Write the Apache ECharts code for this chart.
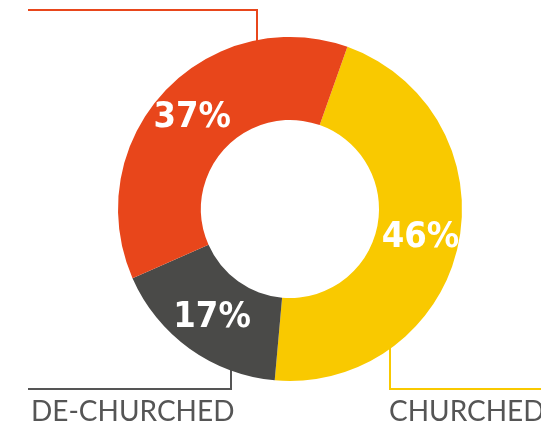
<!DOCTYPE html>
<html><head><meta charset="utf-8">
<script src="https://cdn.jsdelivr.net/npm/echarts@6/dist/echarts.min.js"></script>
<style>html,body{margin:0;padding:0;background:#fff}#c{width:541px;height:438px}</style>
</head><body><div id="c"></div>
<script>
const categories = ['CHURCHED', 'DE-CHURCHED', 'UNCHURCHED'];
const values = [46, 17, 37];
const colors = ['#F9C900', '#4A4A48', '#E8461B'];

const chart = echarts.init(document.getElementById('c'), null, {renderer: 'canvas'});
chart.setOption({
  animation: false,
  backgroundColor: '#fff',
  series: [{
    type: 'pie',
    center: [290, 209],
    radius: [89, 172],
    startAngle: 70.5,
    clockwise: true,
    silent: true,
    label: {
      show: true,
      position: 'inside',
      formatter: p => p.value + '%',
      color: '#fff',
      fontFamily: "'DejaVu Sans Condensed', Roboto, sans-serif",
      fontWeight: 'bold',
      fontSize: 36
    },
    labelLine: {show: false},
    data: categories.map((c, i) => ({name: c, value: values[i], itemStyle: {color: colors[i]}}))
  }],
  graphic: [
    {type: 'polyline', shape: {points: [[28, 10], [257, 10], [257, 41]]}, style: {stroke: '#E8461B', lineWidth: 2, fill: null}},
    {type: 'polyline', shape: {points: [[28, 389], [231, 389], [231, 366]]}, style: {stroke: '#555555', lineWidth: 2, fill: null}},
    {type: 'polyline', shape: {points: [[541, 389], [390, 389], [390, 346]]}, style: {stroke: '#F9C900', lineWidth: 2, fill: null}},
    {type: 'text', x: 31, y: 426, style: {text: categories[1], fill: '#555555', font: '28px Lato', textVerticalAlign: 'bottom'}},
    {type: 'text', x: 389, y: 426, style: {text: categories[0], fill: '#555555', font: '28px Lato', textVerticalAlign: 'bottom'}}
  ]
});
</script></body></html>
